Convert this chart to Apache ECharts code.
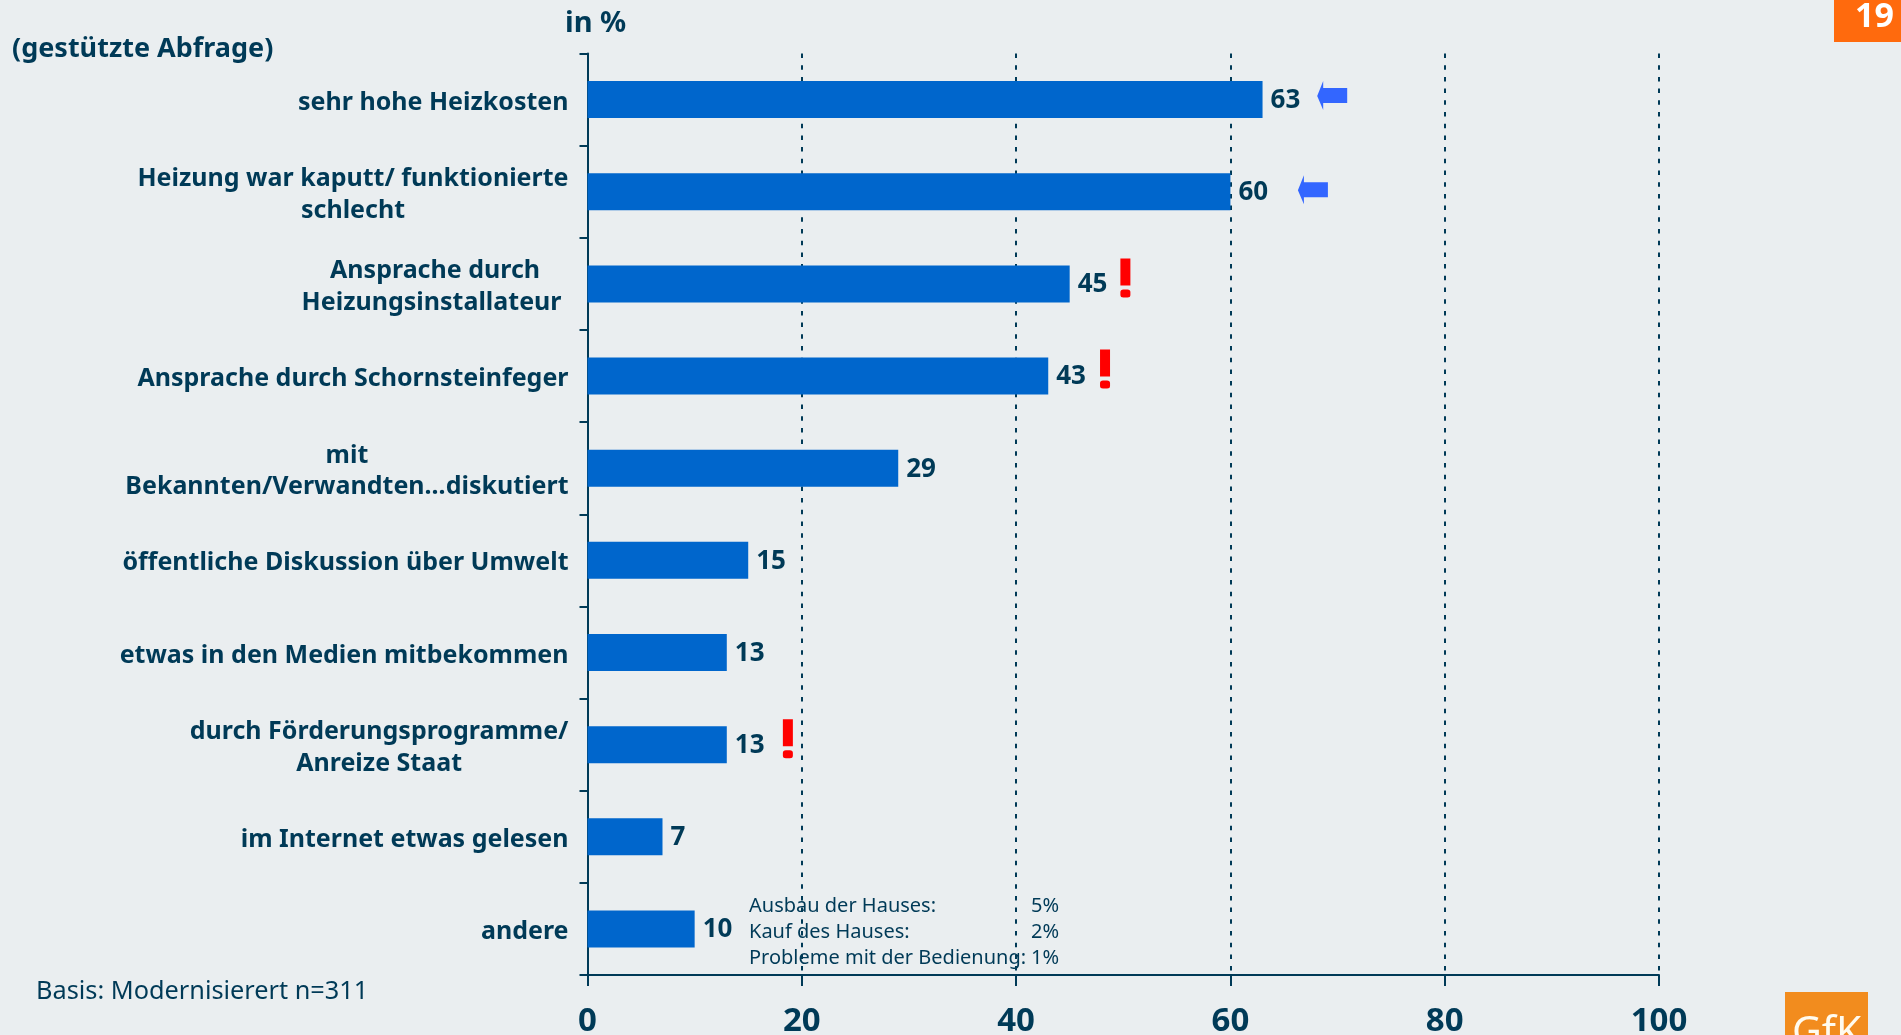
<!DOCTYPE html>
<html><head><meta charset="utf-8">
<style>html,body{margin:0;padding:0;background:#EAEEF0;overflow:hidden}#c{width:1901px;height:1035px}</style>
<script src="https://cdn.jsdelivr.net/npm/echarts@6/dist/echarts.min.js"></script>
</head><body><div id="c"></div>
<script>
const categories = ['sehr hohe Heizkosten','Heizung war kaputt/ funktionierte\nschlecht','Ansprache durch\nHeizungsinstallateur','Ansprache durch Schornsteinfeger','mit\nBekannten/Verwandten...diskutiert','öffentliche Diskussion über Umwelt','etwas in den Medien mitbekommen','durch Förderungsprogramme/\nAnreize Staat','im Internet etwas gelesen','andere'];
const values = [63,60,45,43,29,15,13,13,7,10];
const arrowMarks = [[69.5,0,-4],[67.7,1,-2]];
const alertMarks = [[50.2,2,-6],[48.3,3,-7],[18.7,7,-6]];
const xTicks = [0,20,40,60,80,100];
const noteLabels = ['Ausbau der Hauses:','Kauf des Hauses:','Probleme mit der Bedienung:'];
const noteValues = ['5%','2%','1%'];

const INK = '#003A57';
const FONT = '"Noto Sans", sans-serif';
const arrowPath = 'path://M0 15 L6 0 V7 H30 V22 H6 V29 Z';
const alertPath = 'path://M0 0H10V27H0Z M3 31H7Q10 31 10 33.5V36.5Q10 39 7 39H3Q0 39 0 36.5V33.5Q0 31 3 31Z';

const chart = echarts.init(document.getElementById('c'), null, {renderer:'canvas'});
const txt = (left, y, text, size, weight, fill) => ({
  type:'text', left, top:y-size*0.42,
  style:{text, font:`${weight} ${size}px ${FONT}`, fill}
});
const labelStyle = {align:'center', fontSize:25, fontWeight:700, fontFamily:FONT, color:INK, lineHeight:31.5};

chart.setOption({
  backgroundColor:'#EAEEF0',
  animation:false,
  textStyle:{fontFamily:FONT},
  grid:{left:587.5, top:53.5, width:1071.5, height:921.5, containLabel:false, outerBoundsMode:'none'},
  xAxis:{
    type:'value', min:0, max:100, interval:20,
    axisLine:{show:true, onZero:false, lineStyle:{color:INK,width:2}},
    axisTick:{show:true, length:11, lineStyle:{color:INK,width:2}},
    axisLabel:{margin:30, color:INK, fontSize:33, fontWeight:700, fontFamily:FONT,
      formatter:v => xTicks.includes(v) ? String(v) : ''},
    splitLine:{show:true, showMinLine:false, lineStyle:{color:INK,width:2,type:[4.5,7.2]}}
  },
  yAxis:{
    type:'category', inverse:true, data:categories,
    axisLine:{show:true, lineStyle:{color:INK,width:2}},
    axisTick:{show:true, length:8, alignWithLabel:false, lineStyle:{color:INK,width:2}},
    axisLabel:{margin:19, interval:0, color:INK, align:'right', padding:[6,0,0,0],
      formatter:v => v.split('\n').map(l => (l==='Heizungsinstallateur'?'{p|':'{c|')+l+'}').join('\n'),
      rich:{c:labelStyle, p:Object.assign({padding:[0,7,0,0]},labelStyle)}
    },
    splitLine:{show:false}
  },
  series:[
    {type:'bar', data:values, barWidth:37, itemStyle:{color:'#0066CC'}, z:3,
     label:{show:true, position:'right', distance:8, offset:[0,1], color:INK, fontSize:26, fontWeight:700, fontFamily:FONT}},
    {type:'scatter', z:4, symbol:arrowPath, symbolSize:[30,29], itemStyle:{color:'#3366FF',opacity:1},
     data:arrowMarks.map(m=>({value:[m[0],m[1]], symbolOffset:[0,m[2]]}))},
    {type:'scatter', z:4, symbol:alertPath, symbolSize:[10,39], itemStyle:{color:'#FF0000',opacity:1},
     data:alertMarks.map(m=>({value:[m[0],m[1]], symbolOffset:[0,m[2]]}))}
  ],
  graphic:[
    {type:'rect', left:1834, top:0, shape:{width:67,height:42}, style:{fill:'#FF6A0D'}},
    {type:'text', left:1855, top:0, style:{text:'19', font:`700 34px ${FONT}`, fill:'#fff'}},
    {type:'rect', left:1785, top:992, shape:{width:83,height:43}, style:{fill:'#F28C1E'}},
    {type:'text', left:1792, top:1014, style:{text:'GfK', font:`400 41px ${FONT}`, fill:'#FFFBEF'}},
    txt(565,21,'in %',29,700,INK),
    txt(12,47,'(gestützte Abfrage)',27,700,INK),
    txt(36,990,'Basis: Modernisierert n=311',25.3,400,INK),
    ...noteLabels.map((t,i)=>txt(749,905+26*i,t,20,400,INK)),
    ...noteValues.map((t,i)=>txt(1031,905+26*i,t,20,400,INK))
  ]
});
</script></body></html>
